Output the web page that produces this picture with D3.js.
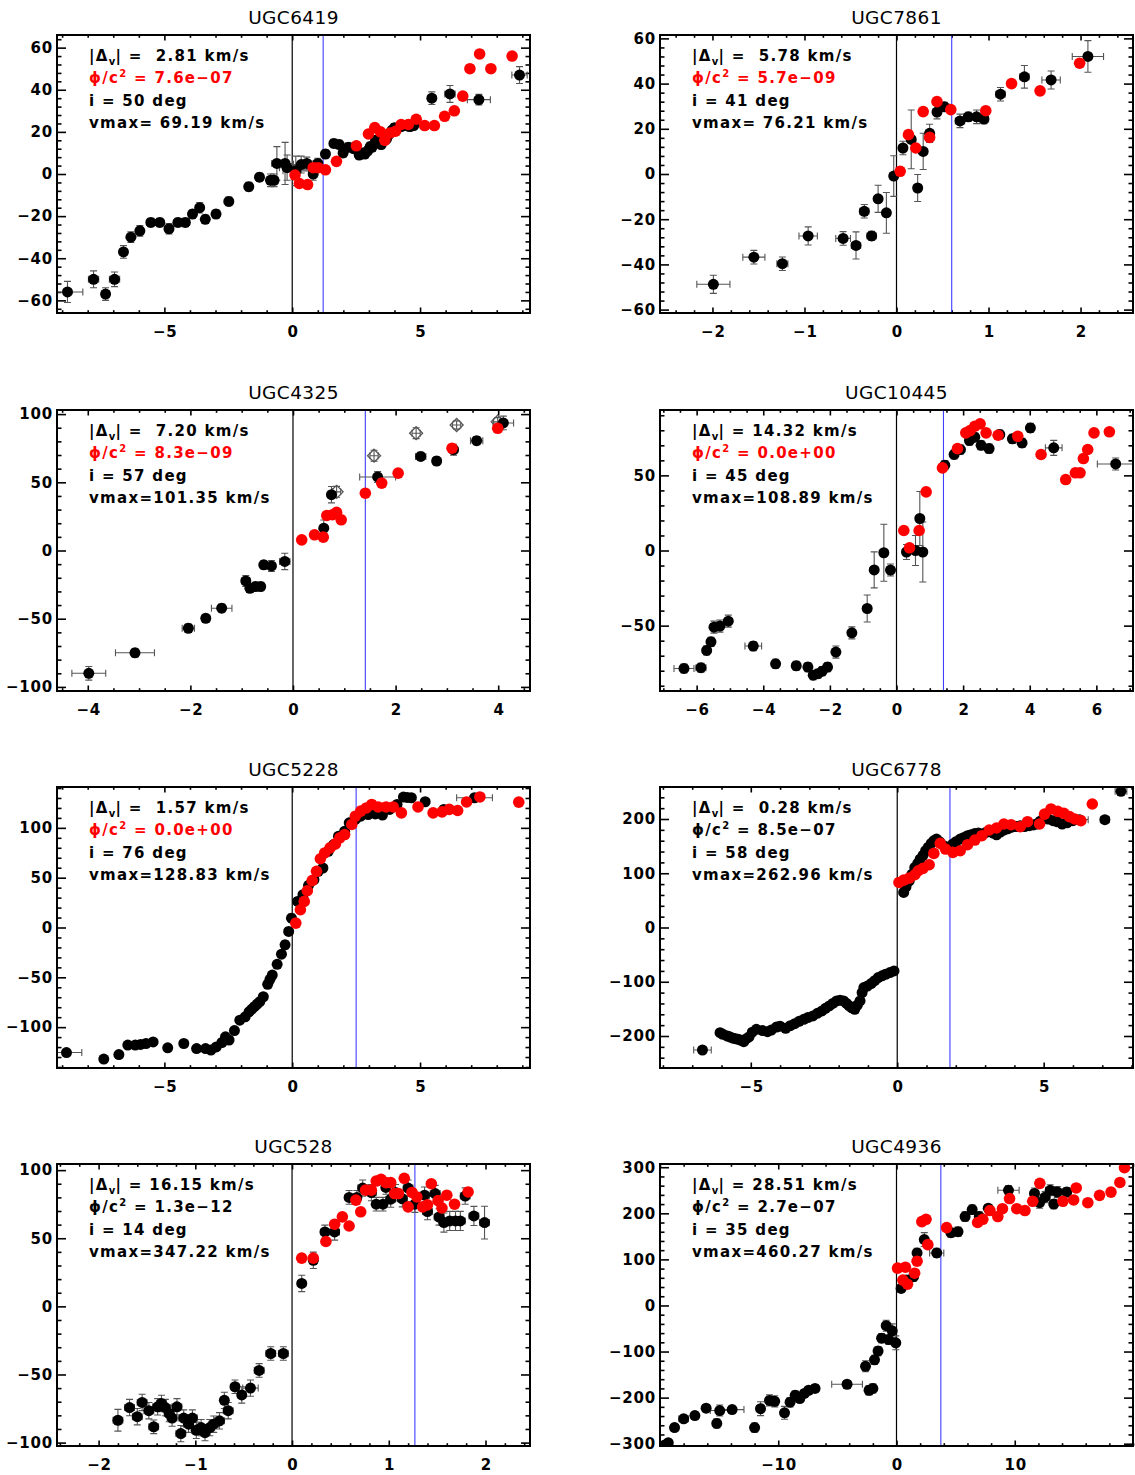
<!DOCTYPE html>
<html><head><meta charset="utf-8">
<script src="https://cdn.jsdelivr.net/npm/d3@7"></script>
<style>
body{margin:0;background:#fff;}
text{font-family:"DejaVu Sans","Liberation Sans",Arial,sans-serif;white-space:pre;}
</style></head>
<body><svg id="c" width="1135" height="1475"></svg>
<script>
// ---------- panel labels ----------
const panelNames = ["UGC6419","UGC7861","UGC4325","UGC10445","UGC5228","UGC6778","UGC528","UGC4936"];
const dvValues   = [" 2.81"," 5.78"," 7.20","14.32"," 1.57"," 0.28","16.15","28.51"];
const phiValues  = ["7.6e\u221207","5.7e\u221209","8.3e\u221209","0.0e+00","0.0e+00","8.5e\u221207","1.3e\u221212","2.7e\u221207"];
const phiIsRed   = [true,true,true,true,true,false,false,false];
const incValues  = ["50","41","57","45","76","58","14","35"];
const vmaxValues = [" 69.19"," 76.21","101.35","108.89","128.83","262.96","347.22","460.27"];
const blueLineX  = [1.21,0.60,1.41,1.41,2.50,1.80,1.27,3.75];
const xDomains = [[-9.2,9.3],[-2.57,2.57],[-4.6,4.62],[-7.1,7.1],[-9.2,9.3],[-8.1,8.05],[-2.43,2.46],[-20,20]];
const yDomains = [[-66,66],[-61.5,61.5],[-103,103],[-93.5,93.5],[-141,141],[-259,259],[-102.5,104.5],[-305,307]];
const xTickVals = [[-5,0,5],[-2,-1,0,1,2],[-4,-2,0,2,4],[-6,-4,-2,0,2,4,6],[-5,0,5],[-5,0,5],[-2,-1,0,1,2],[-10,0,10]];
const yTickVals = [[-60,-40,-20,0,20,40,60],[-60,-40,-20,0,20,40,60],[-100,-50,0,50,100],[-50,0,50],[-100,-50,0,50,100],[-200,-100,0,100,200],[-100,-50,0,50,100],[-300,-200,-100,0,100,200,300]];
const xMinorStep = [1,0.2,0.5,0.5,1,1,0.2,2];
const yMinorStep = [4,4,10,10,10,20,10,20];

// ---------- data: black points [x, v, xerr, verr]; red points [x, v] ----------
const ugc6419Black = [[-8.79,-56,0.6,5],[-7.77,-50,0.2,4],[-7.3,-57,0.15,3],[-6.95,-50,0.2,3.5],[-6.6,-37,0.1,3],[-6.31,-30,0.1,2.5],[-5.96,-27,0.1,2.5],[-5.53,-23,0.15,2],[-5.18,-23,0.15,2],[-4.82,-26,0.1,2.5],[-4.47,-23,0.15,2],[-4.18,-23,0.15,2],[-3.9,-19,0.1,2],[-3.62,-16,0.1,2.5],[-3.4,-21.5,0.1,2],[-2.98,-19,0.1,2],[-2.48,-13,0.1,2],[-1.7,-6,0.1,2],[-1.28,-1.5,0.15,2],[-0.85,-3,0.15,3],[-0.71,-3,0.15,3],[-0.6,5,0.2,8],[-0.28,5,0.3,10],[-0.2,3,0.3,6],[0.14,1.5,0.5,7],[0.35,4.5,0.3,4],[0.57,5,0.2,3],[0.82,0,0.15,3],[1.0,5,0.15,2.5],[1.3,9.5,0.1,2],[1.63,14.5,0.1,2],[1.84,14,0.1,2],[1.99,10,0.1,2],[2.2,12.7,0.1,2],[2.41,12,0.1,2],[2.62,9,0.1,2],[2.75,10,0.1,2],[2.84,9.5,0.1,2],[2.95,11,0.1,2],[3.05,13,0.1,2],[3.12,12.7,0.1,2],[3.26,16,0.1,2],[3.35,15,0.1,2],[3.48,14,0.1,2],[3.69,16.7,0.1,2],[3.8,19,0.1,2],[3.9,20.7,0.1,2],[4.0,22,0.1,2],[4.11,21.5,0.1,2],[4.25,22.5,0.1,2],[4.4,23,0.15,2],[4.6,22.5,0.1,2],[4.75,23,0.15,2],[5.46,36,0.15,3],[6.17,38,0.2,4],[7.3,35.3,0.45,2.5],[8.89,47,0.3,4]];
const ugc6419Red = [[0.11,-0.5],[0.28,-4.5],[0.6,-5],[0.82,3],[1.02,3],[1.3,2],[1.73,6],[2.51,13.4],[2.98,19],[3.23,22],[3.45,20],[3.62,16],[3.83,19.5],[4.04,20.3],[4.26,23.5],[4.54,23.5],[4.85,26],[5.18,23],[5.56,23],[5.96,27.4],[6.34,30],[6.67,37],[6.95,50],[7.33,57],[7.77,50],[8.6,56]];

const ugc7861Black = [[-1.99,-48.8,0.18,4],[-1.55,-36.8,0.12,3],[-1.24,-39.7,0.06,3],[-0.96,-27.4,0.1,4],[-0.58,-28.5,0.08,3],[-0.44,-31.6,0.05,6],[-0.35,-16.5,0.05,3],[-0.27,-27.4,0.05,2],[-0.2,-11,0.04,6],[-0.11,-17.2,0.04,9],[-0.03,-0.9,0.04,9],[0.07,11.5,0.04,3],[0.16,15.3,0.04,13],[0.23,-6.2,0.04,6],[0.29,10,0.04,8],[0.36,18,0.04,4],[0.44,27.4,0.04,3],[0.52,29.7,0.05,2],[0.69,23.5,0.05,3],[0.78,25.3,0.05,2],[0.87,25.3,0.05,3],[0.95,24.3,0.05,2],[1.13,35.3,0.05,3],[1.39,43,0.05,5],[1.68,41.6,0.1,4],[2.08,52,0.17,7]];
const ugc7861Red = [[0.04,1.2],[0.13,17.4],[0.21,11.5],[0.29,27.6],[0.36,16.2],[0.44,32],[0.59,28.5],[0.97,28],[1.25,40],[1.56,36.8],[1.99,49]];

const ugc4325Black = [[-3.98,-90,0.33,5],[-3.08,-75,0.38,3],[-2.04,-57,0.12,3],[-1.7,-49.7,0.08,3],[-1.39,-42.3,0.2,3],[-0.92,-22.3,0.08,4],[-0.84,-27.7,0.06,3],[-0.73,-26.4,0.06,3],[-0.63,-26.4,0.06,3],[-0.57,-10.5,0.06,3],[-0.42,-11.3,0.08,4],[-0.16,-8,0.1,6],[0.6,16.4,0.05,6],[0.75,40.9,0.05,6],[1.65,53.9,0.35,4],[2.49,69,0.1,3],[2.8,65.6,0.08,3],[3.13,73.9,0.08,4],[3.58,80.5,0.12,3],[4.1,93.5,0.2,5]];
const ugc4325Red = [[0.17,7.8],[0.42,11.5],[0.59,9.8],[0.66,25.7],[0.77,26.2],[0.85,28],[0.94,22.5],[1.41,42],[1.73,49.4],[2.05,56.7],[3.1,75],[3.99,89.6]];
const ugc4325Open = [[0.85,43,0.08,4],[1.58,69.5,0.08,4],[2.4,86,0.08,4],[3.19,92,0.08,3],[3.99,94.4,0.08,3]];

const ugc10445Black = [[-6.38,-78.5,0.3,3],[-5.87,-78,0.15,3],[-5.7,-66.5,0.08,3],[-5.57,-60.8,0.08,3],[-5.48,-51,0.1,4],[-5.3,-50.3,0.1,4],[-5.05,-47,0.08,4],[-4.3,-63.6,0.25,3],[-3.63,-75.4,0.1,3],[-3.01,-76.7,0.1,3],[-2.66,-77.6,0.1,3],[-2.5,-83,0.06,3],[-2.36,-82,0.06,3],[-2.23,-80.3,0.06,3],[-2.07,-77.6,0.06,3],[-1.82,-67.6,0.08,4],[-1.34,-54.8,0.08,4],[-0.88,-38.6,0.08,9],[-0.67,-12.9,0.1,12],[-0.38,-1.5,0.06,19],[-0.18,-13,0.06,4],[0.3,-1,0.1,5],[0.57,0,0.1,10],[0.7,21.3,0.06,18],[0.79,-1,0.06,20],[1.45,56.8,0.08,3],[1.73,63.9,0.08,3],[1.92,67.2,0.06,3],[2.19,73.2,0.06,3],[2.35,75.4,0.06,3],[2.54,70,0.06,3],[2.78,67.8,0.08,3],[3.1,77.2,0.1,3],[3.48,74.3,0.1,3],[3.77,71.6,0.06,3],[4.02,81.6,0.06,3],[4.72,68.3,0.25,5],[6.58,57.6,0.55,4]];
const ugc10445Red = [[0.22,13.3],[0.39,1.8],[0.68,13.3],[0.89,39],[1.38,55],[1.83,67.8],[2.08,78.3],[2.21,79.8],[2.35,82.7],[2.51,84.3],[2.69,78.3],[3.05,76.7],[3.64,76],[4.34,63.9],[5.08,47.2],[5.37,51.7],[5.51,51.7],[5.61,61.2],[5.74,67.2],[5.93,78.3],[6.39,79]];

const ugc5228Black = [[-8.83,-125.5,0.6,3],[-7.37,-132,0.1,3],[-6.78,-127.5,0.1,3],[-6.43,-118,0.1,3],[-6.14,-118,0.1,3],[-5.93,-117.4,0.1,3],[-5.72,-116.4,0.1,3],[-5.44,-114.8,0.1,3],[-4.87,-120.8,0.1,3],[-4.24,-116.4,0.1,3],[-3.74,-121.5,0.1,3],[-3.39,-121.5,0.1,3],[-3.18,-123,0.1,3],[-2.97,-119.8,0.1,3],[-2.75,-115.4,0.1,3],[-2.61,-109.7,0.1,3],[-2.47,-113,0.1,3],[-2.26,-103.4,0.1,3],[-2.05,-93,0.1,3],[-1.84,-89.6,0.1,3],[-1.69,-84.6,0.1,3],[-1.58,-82,0.1,3],[-1.48,-79.5,0.1,3],[-1.37,-77,0.1,3],[-1.27,-74.5,0.1,3],[-1.13,-69.5,0.1,3],[-0.96,-57,0.1,3],[-0.87,-52,0.1,3],[-0.78,-47.7,0.1,3],[-0.59,-37,0.1,3],[-0.42,-26.8,0.1,3],[-0.28,-17.4,0.1,4],[-0.14,-4,0.1,4],[-0.03,9.4,0.1,4],[0.21,26.2,0.1,3],[0.42,32.9,0.1,3],[0.64,42.3,0.1,3],[0.85,48,0.1,3],[1.02,56.4,0.1,3],[1.2,59.7,0.1,3],[1.41,76.5,0.1,3],[1.62,83.2,0.1,3],[1.81,91.6,0.1,3],[2.05,96.6,0.1,3],[2.23,105,0.1,3],[2.47,108.4,0.1,3],[2.68,111.7,0.1,3],[2.97,113.4,0.1,3],[3.25,114,0.1,3],[3.53,112.8,0.1,3],[3.81,118.5,0.1,3],[4.1,123.5,0.1,3],[4.35,130.9,0.1,3],[4.5,130.5,0.1,3],[4.66,130.2,0.1,3],[5.2,126.2,0.1,3],[5.93,118.5,0.1,3],[7.13,130.2,0.7,3]];
const ugc5228Red = [[0.14,4.4],[0.32,17.8],[0.47,26.2],[0.59,36.9],[0.78,47],[0.95,56.4],[1.1,69],[1.27,74.8],[1.48,79.9],[1.69,83.9],[1.86,90],[2.05,93.3],[2.33,103.4],[2.47,111.7],[2.68,116.8],[2.9,120],[3.11,123.5],[3.36,121],[3.67,121],[3.95,121],[4.27,115],[4.92,121],[5.51,115],[5.86,116],[6.14,118.5],[6.47,117.4],[6.82,126],[7.34,131],[8.86,125.8]];

const ugc6778Black = [[-6.65,-225.8,0.3,5],[-6.05,-193.8,0.1,4],[-5.95,-197,0.1,4],[-5.8,-200,0.1,4],[-5.7,-202,0.1,4],[-5.61,-204,0.1,4],[-5.52,-205,0.1,4],[-5.43,-206,0.1,4],[-5.33,-208,0.1,4],[-5.24,-210.5,0.1,4],[-5.15,-205,0.1,4],[-5.06,-201.8,0.1,4],[-4.95,-193,0.1,4],[-4.81,-187.7,0.1,4],[-4.6,-190,0.1,4],[-4.43,-192,0.1,4],[-4.3,-189,0.1,4],[-4.12,-183.4,0.1,4],[-4.0,-182,0.1,4],[-3.81,-185.8,0.1,4],[-3.65,-181,0.1,4],[-3.5,-177.2,0.1,4],[-3.35,-173,0.1,4],[-3.19,-169.2,0.1,4],[-3.05,-166,0.1,4],[-2.88,-163,0.1,4],[-2.72,-158,0.1,4],[-2.57,-153.8,0.1,4],[-2.45,-149,0.1,4],[-2.32,-144.6,0.1,4],[-2.2,-140,0.1,4],[-2.07,-135.4,0.1,4],[-1.95,-134,0.1,4],[-1.83,-135.4,0.1,4],[-1.73,-140,0.1,4],[-1.64,-144.6,0.1,4],[-1.55,-148,0.1,4],[-1.45,-150.8,0.1,4],[-1.36,-143,0.1,4],[-1.27,-135.4,0.1,4],[-1.2,-120,0.1,4],[-1.14,-110.8,0.1,4],[-1.02,-108,0.1,4],[-0.89,-103.4,0.1,4],[-0.77,-98,0.1,4],[-0.65,-92.3,0.1,4],[-0.52,-89,0.1,4],[-0.4,-86.2,0.1,4],[-0.25,-83,0.1,4],[-0.11,-80,0.1,4],[0.22,64.6,0.1,4],[0.3,75,0.1,4],[0.41,86.2,0.1,4],[0.5,98,0.1,4],[0.6,110.8,0.1,4],[0.7,118,0.1,4],[0.78,126,0.1,4],[0.88,133,0.1,4],[0.97,141.5,0.1,4],[1.06,148,0.1,4],[1.16,155,0.1,4],[1.25,160,0.1,4],[1.34,163,0.1,4],[1.45,158,0.1,4],[1.59,150.8,0.1,4],[1.7,148,0.1,4],[1.9,153.8,0.1,4],[2.0,158,0.1,4],[2.15,163,0.1,4],[2.28,166,0.1,4],[2.4,169.2,0.1,4],[2.52,171,0.1,4],[2.65,173.5,0.1,4],[2.77,174,0.1,4],[2.89,172.3,0.1,4],[3.02,175,0.1,4],[3.14,177.2,0.1,4],[3.27,174,0.1,4],[3.39,171,0.1,4],[3.52,176,0.1,4],[3.64,179.7,0.1,4],[3.77,182,0.1,4],[3.89,184.6,0.1,4],[4.05,186,0.1,4],[4.2,187.7,0.1,4],[4.35,186,0.1,4],[4.51,187.7,0.1,4],[4.65,189,0.1,4],[4.76,190.8,0.1,4],[4.88,196,0.1,4],[5.0,201.8,0.1,4],[5.15,200,0.1,4],[5.32,197,0.1,4],[5.45,195,0.1,4],[5.63,190.8,0.1,4],[5.8,193,0.1,4],[6.0,197,0.1,4],[6.22,198.8,0.3,5],[7.09,198.8,0.15,5],[7.64,251,0.2,5]];
const ugc6778Red = [[0.06,83],[0.22,87.4],[0.41,91],[0.6,97.2],[0.72,104.6],[0.88,109],[1.09,115.7],[1.25,136.6],[1.47,155],[1.65,144.6],[1.9,138.5],[2.15,141.5],[2.4,152.6],[2.65,161.2],[2.89,169.2],[3.14,179.7],[3.39,183.4],[3.64,190.8],[3.89,189.5],[4.2,185.8],[4.45,195],[4.86,190.8],[5.03,209],[5.25,218.5],[5.48,214],[5.69,210.5],[5.88,204.3],[6.06,200],[6.27,197],[6.66,227.7]];

const ugc528Black = [[-1.8,-83.6,0.05,8],[-1.68,-74.3,0.05,6],[-1.6,-81,0.05,6],[-1.55,-70.5,0.05,6],[-1.48,-76.6,0.05,6],[-1.43,-88.4,0.05,5],[-1.39,-73.7,0.05,6],[-1.35,-71.3,0.05,6],[-1.31,-74.3,0.05,6],[-1.27,-78.7,0.05,6],[-1.24,-82,0.05,6],[-1.19,-73.7,0.05,6],[-1.15,-93.4,0.05,6],[-1.12,-82,0.05,6],[-1.07,-86.5,0.05,6],[-1.03,-82,0.05,6],[-0.99,-91,0.05,6],[-0.94,-89,0.05,6],[-0.9,-92.7,0.05,6],[-0.85,-89,0.05,6],[-0.81,-86.5,0.05,6],[-0.75,-84,0.05,6],[-0.7,-69,0.04,6],[-0.66,-76.6,0.05,6],[-0.59,-59,0.04,5],[-0.52,-65,0.04,6],[-0.43,-60,0.08,6],[-0.34,-47,0.05,5],[-0.22,-34.6,0.05,5],[-0.09,-34.6,0.05,5],[0.1,16.8,0.04,6],[0.22,33.8,0.04,6],[0.34,54.6,0.04,5],[0.44,54.6,0.05,6],[0.59,80,0.04,5],[0.67,80,0.04,5],[0.73,86.8,0.05,6],[0.82,83.5,0.05,6],[0.87,75,0.04,5],[0.94,75,0.04,5],[0.97,87.3,0.04,5],[1.02,78.7,0.05,6],[1.07,83.5,0.05,6],[1.14,79,0.05,6],[1.2,86.8,0.05,6],[1.27,75,0.05,6],[1.37,81.6,0.05,6],[1.4,69.6,0.05,6],[1.48,82.8,0.05,6],[1.52,65.6,0.05,6],[1.57,61.5,0.05,7],[1.63,62.7,0.05,7],[1.69,62.7,0.05,7],[1.74,62.7,0.05,7],[1.79,81,0.05,6],[1.88,66.4,0.05,7],[1.99,61.5,0.05,12]];
const ugc528Red = [[0.1,35.4],[0.22,35.4],[0.35,47.6],[0.44,60.3],[0.52,65.7],[0.59,59],[0.66,78],[0.71,69.4],[0.76,85.3],[0.82,85.3],[0.87,92],[0.92,93.3],[0.97,90.8],[1.02,90.8],[1.06,82.8],[1.1,82.8],[1.16,94],[1.2,73],[1.24,83.6],[1.29,80.3],[1.35,73],[1.4,74.5],[1.44,90],[1.51,77.6],[1.55,72.2],[1.6,81.6],[1.68,75],[1.82,84]];

const ugc4936Black = [[-19.6,-303,0.3,8],[-19.3,-298,0.3,8],[-18.77,-265,0.3,8],[-18.0,-246,0.4,8],[-17.05,-239,0.3,8],[-16.1,-223,0.3,8],[-15.2,-256,0.3,10],[-14.95,-228,0.8,12],[-13.9,-226,1.0,8],[-12.0,-265,0.3,10],[-11.5,-224,0.3,15],[-10.74,-206,0.3,12],[-10.3,-208,0.3,12],[-9.47,-233,0.3,14],[-9.0,-210,0.3,10],[-8.57,-195,0.3,10],[-8.18,-202,0.3,8],[-7.79,-191,0.3,8],[-7.43,-184,0.3,8],[-6.89,-180,0.3,8],[-4.18,-171,1.3,8],[-2.62,-132,0.2,12],[-2.32,-184,0.3,10],[-2.0,-180,0.3,10],[-1.86,-118,0.2,10],[-1.56,-99,0.3,10],[-1.26,-71,0.3,10],[-0.87,-44,0.3,12],[-0.66,-74,0.2,10],[-0.36,-55,0.2,15],[-0.06,-81,0.2,15],[0.39,37,0.2,8],[0.84,55,0.2,10],[1.44,62.5,0.2,10],[1.74,114,0.2,10],[2.35,143,0.2,15],[3.4,114,0.6,10],[4.6,158,0.3,10],[5.2,160,0.3,10],[5.8,193,0.3,10],[6.4,208,0.3,10],[7.0,193,0.3,10],[7.76,211,0.3,8],[9.47,250,0.9,10],[11.67,243,0.3,12],[12.1,223,0.3,12],[12.57,235,0.4,12],[13.0,250,0.4,12],[13.3,220,0.3,10],[13.6,246,0.4,12],[14.4,246,0.3,10]];
const ugc4936Red = [[0.09,81],[0.54,55],[0.75,83],[0.93,46],[1.53,70],[1.74,96],[2.14,182],[2.5,187],[2.65,132],[4.24,169],[6.86,180],[7.3,187],[7.9,206],[8.57,193],[8.96,210],[9.56,232],[10.17,210],[10.86,206],[11.52,226],[12.12,265],[14.07,226],[14.98,229],[15.2,255],[16.18,223],[17.17,239],[18.14,246],[18.89,267],[19.28,299]];

const blackSets = [ugc6419Black,ugc7861Black,ugc4325Black,ugc10445Black,ugc5228Black,ugc6778Black,ugc528Black,ugc4936Black];
const redSets   = [ugc6419Red,ugc7861Red,ugc4325Red,ugc10445Red,ugc5228Red,ugc6778Red,ugc528Red,ugc4936Red];
const openSets  = [[],[],ugc4325Open,[],[],[],[],[]];

// ---------- drawing ----------
const svg = d3.select("#c");
svg.append("rect").attr("width",1135).attr("height",1475).attr("fill","#fff");
const colX = [[57,530],[660,1133]];
const rowY = [[35,313],[410,691],[787,1068],[1164,1446]];
const errColor = "#555";
const labelFont = '"DejaVu Sans","Liberation Sans",Arial,sans-serif';

function minorVals(dom, step, majors){
  const lo = Math.min(dom[0],dom[1]), hi = Math.max(dom[0],dom[1]);
  const out = [];
  for (let k = Math.ceil(lo/step - 1e-9); k*step <= hi + 1e-9; k++) {
    const v = +(k*step).toFixed(6);
    if (!majors.some(m => Math.abs(m - v) < 1e-6)) out.push(v);
  }
  return out;
}
const fmt = v => (v < 0 ? "\u2212" + Math.abs(v) : String(v));

panelNames.forEach((name, i) => {
  const [x0,x1] = colX[i%2], [y0,y1] = rowY[Math.floor(i/2)];
  const x = d3.scaleLinear().domain(xDomains[i]).range([x0,x1]);
  const y = d3.scaleLinear().domain(yDomains[i]).range([y1,y0]);
  const g = svg.append("g");
  const clipId = "clip"+i;
  g.append("clipPath").attr("id",clipId).append("rect").attr("x",x0).attr("y",y0).attr("width",x1-x0).attr("height",y1-y0);

  // title
  g.append("text").attr("x",(x0+x1)/2).attr("y",y0-11).attr("text-anchor","middle")
    .attr("font-size",18.5).attr("letter-spacing",0.4).text(name);

  // axes (inward ticks, all four sides)
  const xm = minorVals(xDomains[i], xMinorStep[i], xTickVals[i]);
  const ym = minorVals(yDomains[i], yMinorStep[i], yTickVals[i]);
  const axes = [
    [d3.axisBottom(x).tickValues(xTickVals[i]).tickSize(-5.5).tickPadding(13).tickFormat(fmt), `translate(0,${y1})`, "x"],
    [d3.axisBottom(x).tickValues(xm).tickSize(-2.8).tickFormat(""), `translate(0,${y1})`, ""],
    [d3.axisTop(x).tickValues(xTickVals[i]).tickSize(-5.5).tickFormat(""), `translate(0,${y0})`, ""],
    [d3.axisTop(x).tickValues(xm).tickSize(-2.8).tickFormat(""), `translate(0,${y0})`, ""],
    [d3.axisLeft(y).tickValues(yTickVals[i]).tickSize(-9).tickPadding(4).tickFormat(fmt), `translate(${x0},0)`, "y"],
    [d3.axisLeft(y).tickValues(ym).tickSize(-4.5).tickFormat(""), `translate(${x0},0)`, ""],
    [d3.axisRight(y).tickValues(yTickVals[i]).tickSize(-9).tickFormat(""), `translate(${x1},0)`, ""],
    [d3.axisRight(y).tickValues(ym).tickSize(-4.5).tickFormat(""), `translate(${x1},0)`, ""]
  ];
  axes.forEach(([ax, tr, lab]) => {
    const a = g.append("g").attr("transform",tr).call(ax);
    a.select(".domain").remove();
    a.selectAll(".tick line").attr("stroke","#000").attr("stroke-width",1.6);
    if (lab) {
      const t = a.selectAll(".tick text").attr("fill","#000").attr("font-size",15).attr("font-weight","bold")
        .attr("letter-spacing",0.8).style("font-family",labelFont);
      if (lab === "x") t.attr("dx",0.4);
    }
  });

  // reference lines
  g.append("line").attr("x1",x(0)).attr("x2",x(0)).attr("y1",y0).attr("y2",y1).attr("stroke","#000").attr("stroke-width",1.2);
  g.append("line").attr("x1",x(blueLineX[i])).attr("x2",x(blueLineX[i])).attr("y1",y0).attr("y2",y1).attr("stroke","#3f3fff").attr("stroke-width",1.1);

  const marks = g.append("g").attr("clip-path",`url(#${clipId})`);
  const cap = 3.5;
  const withErr = blackSets[i].concat(openSets[i]);
  const eb = marks.append("g").attr("stroke",errColor).attr("stroke-width",1.1).attr("fill","none");
  withErr.forEach(d => {
    const cx = x(d[0]), cy = y(d[1]);
    if (d[3]) {
      const ya = y(d[1]-d[3]), yb = y(d[1]+d[3]);
      eb.append("path").attr("d",`M${cx},${ya}V${yb}M${cx-cap},${ya}H${cx+cap}M${cx-cap},${yb}H${cx+cap}`);
    }
    if (d[2]) {
      const xa = x(d[0]-d[2]), xb = x(d[0]+d[2]);
      eb.append("path").attr("d",`M${xa},${cy}H${xb}M${xa},${cy-cap}V${cy+cap}M${xb},${cy-cap}V${cy+cap}`);
    }
  });
  // open diamonds
  marks.append("g").selectAll("path").data(openSets[i]).join("path")
    .attr("d", d => { const cx=x(d[0]), cy=y(d[1]), r=6.5; return `M${cx},${cy-r}L${cx+r},${cy}L${cx},${cy+r}L${cx-r},${cy}Z`; })
    .attr("fill","none").attr("stroke","#555").attr("stroke-width",1.3);
  // filled black circles
  marks.append("g").selectAll("circle").data(blackSets[i]).join("circle")
    .attr("cx", d => x(d[0])).attr("cy", d => y(d[1])).attr("r",5.5).attr("fill","#000");
  // red circles
  marks.append("g").selectAll("circle").data(redSets[i]).join("circle")
    .attr("cx", d => x(d[0])).attr("cy", d => y(d[1])).attr("r",5.8).attr("fill","#ff0000");

  // frame
  g.append("rect").attr("x",x0).attr("y",y0).attr("width",x1-x0).attr("height",y1-y0)
    .attr("fill","none").attr("stroke","#000").attr("stroke-width",2);

  // annotations
  const tx = x0 + 32, fs = 15, ls = 1.3;
  const ann = (yy, col) => g.append("text").attr("x",tx).attr("y",yy).attr("font-size",fs)
    .attr("font-weight","bold").attr("letter-spacing",ls).attr("fill",col);
  const t1 = ann(y0+26, "#000");
  t1.append("tspan").text("|\u0394");
  t1.append("tspan").attr("font-size",10).attr("dy",4).attr("letter-spacing",0.3).text("v");
  t1.append("tspan").attr("dy",-4).text("| = " + dvValues[i] + " km/s");
  const t2 = ann(y0+48, phiIsRed[i] ? "#ff0000" : "#000");
  t2.append("tspan").text("\u03D5/c");
  t2.append("tspan").attr("font-size",10).attr("dy",-6).text("2");
  t2.append("tspan").attr("dy",6).text(" = " + phiValues[i]);
  ann(y0+71, "#000").text("i = " + incValues[i] + " deg");
  ann(y0+93, "#000").text("vmax=" + vmaxValues[i] + " km/s");
});
</script></body></html>
